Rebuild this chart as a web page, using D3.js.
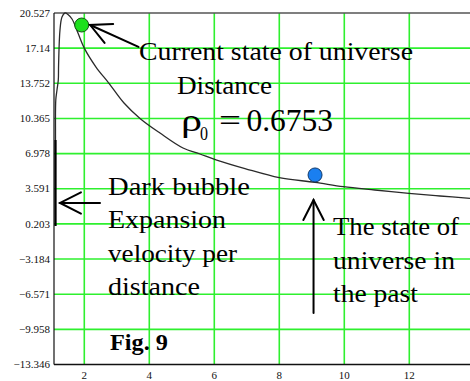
<!DOCTYPE html>
<html>
<head>
<meta charset="utf-8">
<script src="https://cdn.jsdelivr.net/npm/d3@7"></script>
<style>
  html, body { margin: 0; padding: 0; background: #fff; }
  svg { display: block; }
</style>
</head>
<body>
<svg id="chart" width="470" height="381"></svg>
<script>
// Curve: distance vs. state of the universe
const curveX = [1.114, 1.114, 1.123, 1.160, 1.200, 1.209, 1.252, 1.314, 1.406, 1.498, 1.622, 1.806,
                2.000, 2.360, 2.760, 3.222, 3.714, 4.329, 5.037, 5.560, 6.074, 6.945, 8.000,
                9.098, 9.969, 10.94, 11.99, 12.945, 13.868];
const curveY = [0.00, 8.29, 12.14, 13.11, 14.07, 15.51, 18.89, 20.14, 20.527, 20.38, 19.95, 18.60,
                17.14, 15.32, 13.75, 11.85, 10.37, 8.96, 7.52, 6.94, 6.36, 5.54, 4.66,
                4.21, 3.79, 3.47, 3.15, 2.89, 2.67];

// Highlighted states: current (green) and past (blue)
const currentState = [1.92, 19.37];
const pastState = [9.10, 4.92];

// Axis ticks
const yTicks = [20.527, 17.14, 13.752, 10.365, 6.978, 3.591, 0.203, -3.184, -6.571, -9.958, -13.346];
const yTickLabels = ["20.527", "17.14", "13.752", "10.365", "6.978", "3.591", "0.203",
                     "\u22123.184", "\u22126.571", "\u22129.958", "\u221213.346"];
const xTicks = [2, 4, 6, 8, 10, 12];

const svg = d3.select("#chart");
const plotLeft = 54, plotTop = 13, plotBottom = 364.5, plotRight = 471;
const x = d3.scaleLinear().domain([1.068, 13.9]).range([plotLeft, plotLeft + 12.832 * 32.5]);
const y = d3.scaleLinear().domain([-13.346, 20.527]).range([plotBottom, plotTop]);

const serif = "'Liberation Serif', 'Times New Roman', 'DejaVu Serif', serif";

const grid = svg.append("g");
// vertical grid
grid.selectAll("line.vx").data(xTicks).enter().append("line")
  .attr("x1", d => x(d)).attr("x2", d => x(d))
  .attr("y1", plotTop).attr("y2", plotBottom)
  .attr("stroke", "#2ef02e").attr("stroke-width", 1.6);
// horizontal grid
grid.selectAll("line.hy").data(yTicks.slice(1, -1)).enter().append("line")
  .attr("x1", plotLeft).attr("x2", plotRight)
  .attr("y1", d => y(d)).attr("y2", d => y(d))
  .attr("stroke", "#2ef02e").attr("stroke-width", 1.6);

// frame
svg.append("line").attr("x1", plotLeft).attr("x2", plotRight).attr("y1", plotTop).attr("y2", plotTop)
  .attr("stroke", "#555").attr("stroke-width", 1.3);
svg.append("line").attr("x1", plotLeft).attr("x2", plotRight).attr("y1", plotBottom).attr("y2", plotBottom)
  .attr("stroke", "#111").attr("stroke-width", 1.4);
svg.append("line").attr("x1", plotLeft).attr("x2", plotLeft).attr("y1", plotTop).attr("y2", plotBottom)
  .attr("stroke", "#111").attr("stroke-width", 1.2);

// y tick labels
svg.append("g").selectAll("text").data(yTicks).enter().append("text")
  .attr("x", 50).attr("y", d => y(d)).attr("dy", "0.33em")
  .attr("text-anchor", "end")
  .attr("font-family", serif).attr("font-size", 11)
  .attr("fill", "#111")
  .text((d, i) => yTickLabels[i]);

// x tick labels
svg.append("g").selectAll("text").data(xTicks).enter().append("text")
  .attr("x", d => x(d)).attr("y", 379)
  .attr("text-anchor", "middle")
  .attr("font-family", serif).attr("font-size", 11)
  .attr("fill", "#111")
  .text(d => d);

// curve
const pts = curveX.map((v, i) => [v, curveY[i]]);
svg.append("path")
  .datum(pts)
  .attr("d", d3.line().x(d => x(d[0])).y(d => y(d[1])).curve(d3.curveCatmullRom.alpha(0.5)))
  .attr("fill", "none").attr("stroke", "#2a2a2a").attr("stroke-width", 1.3);
// lower steep part of the curve drawn darker
svg.append("line")
  .attr("x1", x(curveX[0])).attr("x2", x(curveX[1]))
  .attr("y1", y(curveY[0])).attr("y2", y(curveY[1]))
  .attr("stroke", "#000").attr("stroke-width", 2.2);

// state markers
svg.append("circle").attr("cx", x(currentState[0])).attr("cy", y(currentState[1])).attr("r", 7)
  .attr("fill", "#1ee01e").attr("stroke", "#145214").attr("stroke-width", 1);
svg.append("circle").attr("cx", x(pastState[0])).attr("cy", y(pastState[1])).attr("r", 7)
  .attr("fill", "#1a7ff0").attr("stroke", "#123a6a").attr("stroke-width", 1);

// arrows
const arrows = svg.append("g").attr("stroke", "#000").attr("stroke-width", 2).attr("fill", "none")
  .attr("stroke-linecap", "round");
function arrow(tx, ty, ang, len, head) {
  // tip at (tx,ty); the shaft leaves the tip in direction ang (radians)
  const ex = tx + len * Math.cos(ang), ey = ty + len * Math.sin(ang);
  arrows.append("line").attr("x1", tx).attr("y1", ty).attr("x2", ex).attr("y2", ey);
  const a1 = ang - 0.47, a2 = ang + 0.47;
  arrows.append("path").attr("d",
    `M${tx + head * Math.cos(a1)},${ty + head * Math.sin(a1)} L${tx},${ty} L${tx + head * Math.cos(a2)},${ty + head * Math.sin(a2)}`);
}
// to the current state
arrow(x(currentState[0]) + 8.5, y(currentState[1]), Math.atan2(21.7, 48), 53, 23);
// dark bubble expansion
arrow(x(1.068) + 6, y(2.22), 0, 40, 23.5);
// up to the past state
arrow(x(pastState[0]) - 1.5, y(pastState[1]) + 25, Math.PI / 2, 113, 22.5);

// annotation text
function label(tx, ty, s, size, width, weight) {
  const t = svg.append("text").attr("x", tx).attr("y", ty)
    .attr("font-family", serif).attr("font-size", size)
    .attr("font-weight", weight || "normal").attr("fill", "#000").text(s);
  if (width) t.attr("textLength", width).attr("lengthAdjust", "spacingAndGlyphs");
  return t;
}
label(139, 60, "Current state of universe", 26, 274);
label(177, 93.5, "Distance", 26, 95);
label(181, 131, "\u03c1", 32, 21);
label(200, 140, "0", 18, 8);
label(219, 131, "=", 32, 22);
label(246.5, 131, "0.6753", 32, 86.5);

label(108, 195, "Dark bubble", 26, 142);
label(108, 228, "Expansion", 26, 118);
label(108, 261.5, "velocity per", 26, 129);
label(108, 295, "distance", 26, 92);
label(110, 350, "Fig. 9", 23, 58, "bold");

label(333, 235, "The state of", 26, 126);
label(333, 268.5, "universe in", 26, 122);
label(333, 302, "the past", 26, 85);
</script>
</body>
</html>
